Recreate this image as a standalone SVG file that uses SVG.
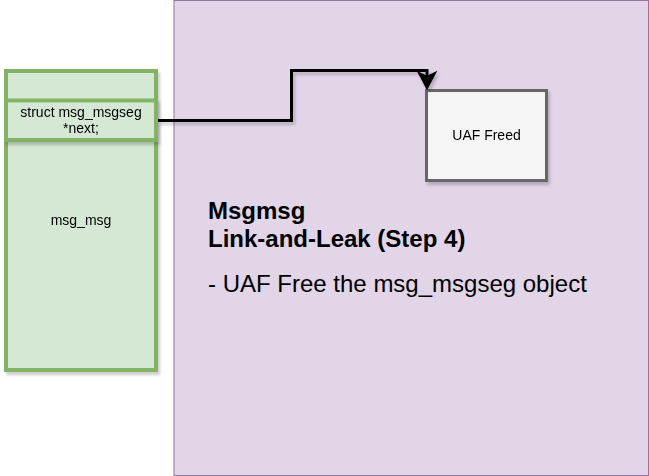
<svg xmlns="http://www.w3.org/2000/svg" width="649" height="476" viewBox="0 0 649 476">
<defs>
<style>
.t{font-family:"Liberation Sans",Arial,sans-serif;fill:#000}
.g{fill:#d5e8d4;stroke:#82b366;stroke-width:4}
</style>
<filter id="sh" x="-10%" y="-10%" width="130%" height="130%">
<feDropShadow dx="2" dy="3" stdDeviation="1.5" flood-color="#000" flood-opacity="0.2"/>
</filter>
</defs>
<g id="background">
<rect x="174" y="0.5" width="474.5" height="475" fill="#e1d5e7" stroke="#9673a6" stroke-width="1"/>
</g>
<g id="msg_msg" filter="url(#sh)">
<rect class="g" x="6" y="71" width="150" height="299"/>
<text class="t" x="81" y="225" font-size="14" text-anchor="middle" fill="#1a1a1a">msg_msg</text>
</g>
<g id="next" filter="url(#sh)">
<rect class="g" x="6" y="100.5" width="150" height="39.5"/>
<text class="t" x="81" y="117" font-size="14" text-anchor="middle" fill="#1a1a1a">struct msg_msgseg</text>
<text class="t" x="81" y="133" font-size="14" text-anchor="middle" fill="#1a1a1a">*next;</text>
</g>
<g id="uaf" filter="url(#sh)">
<rect x="426.5" y="90.5" width="120" height="90" fill="#f5f5f5" stroke="#666666" stroke-width="3"/>
<text class="t" x="486.5" y="140" font-size="14" text-anchor="middle" fill="#333333">UAF Freed</text>
</g>
<g id="connectors" filter="url(#sh)">
<path d="M158 120.5 H291.5 V70.5 H427 V80" fill="none" stroke="#000" stroke-width="3"/>
<path d="M419 73 L427 88 L435 73 L427 77 Z" fill="#000" stroke="#000" stroke-width="2"/>
</g>
<g id="label">
<text class="t" x="208" y="219" font-size="24" font-weight="bold">Msgmsg</text>
<text class="t" x="208" y="247" font-size="24" font-weight="bold">Link-and-Leak (Step 4)</text>
<text class="t" x="208" y="292" font-size="24">- UAF Free the msg_msgseg object</text>
</g>
</svg>
